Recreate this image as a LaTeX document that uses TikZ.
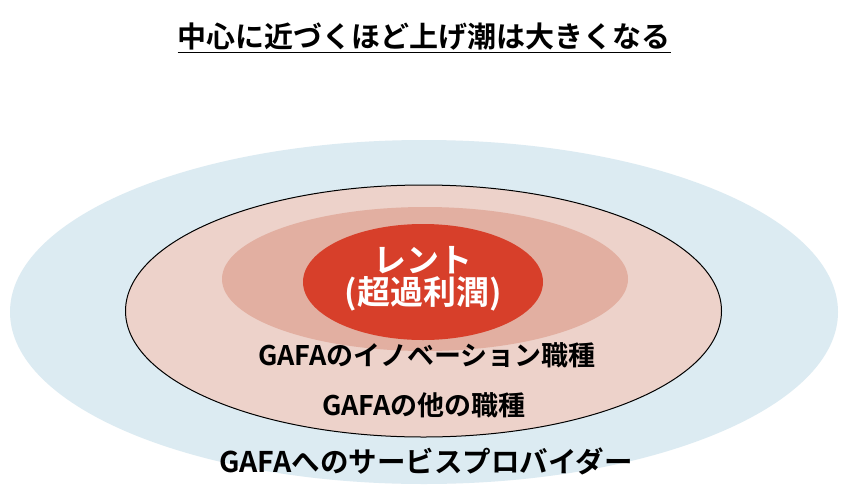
\documentclass[tikz,border=0pt]{standalone}
\usepackage{fontspec}
\newfontfamily\jp{Noto Sans CJK JP Bold}
\definecolor{cblue}{HTML}{DCEBF2}
\definecolor{cpink}{HTML}{EDD2CA}
\definecolor{cmid}{HTML}{E2AFA1}
\definecolor{cred}{HTML}{D73F2A}
\begin{document}
\begin{tikzpicture}[x=1pt,y=-1pt,
  lbl/.style={font=\jp\fontsize{27}{30}\selectfont,text=black}]
\useasboundingbox (0,0) rectangle (848,498);
\fill[white] (0,0) rectangle (848,498);
\fill[cblue] (424,312) ellipse [x radius=414, y radius=172];
\draw[fill=cpink,line width=1pt] (423.5,311) ellipse [x radius=298, y radius=126];
\fill[cmid] (425,279) ellipse [x radius=203, y radius=72];
\fill[cred] (423,282) ellipse [x radius=120, y radius=58];
\node[font=\jp\fontsize{29}{32}\selectfont] (title) at (424,38) {\underline{中心に近づくほど上げ潮は大きくなる}};
\node[font=\jp\fontsize{33}{36}\selectfont,text=white] (rent) at (423,260) {レント};
\node[font=\jp\fontsize{33}{36}\selectfont,text=white] (rent2) at (423,294) {(超過利潤)};
\node[lbl] (inno) at (427,355) {GAFAのイノベーション職種};
\node[lbl] (other) at (424,405) {GAFAの他の職種};
\node[lbl,font=\jp\fontsize{28.5}{30}\selectfont] (serv) at (426,461) {GAFAへのサービスプロバイダー};
\end{tikzpicture}
\end{document}
